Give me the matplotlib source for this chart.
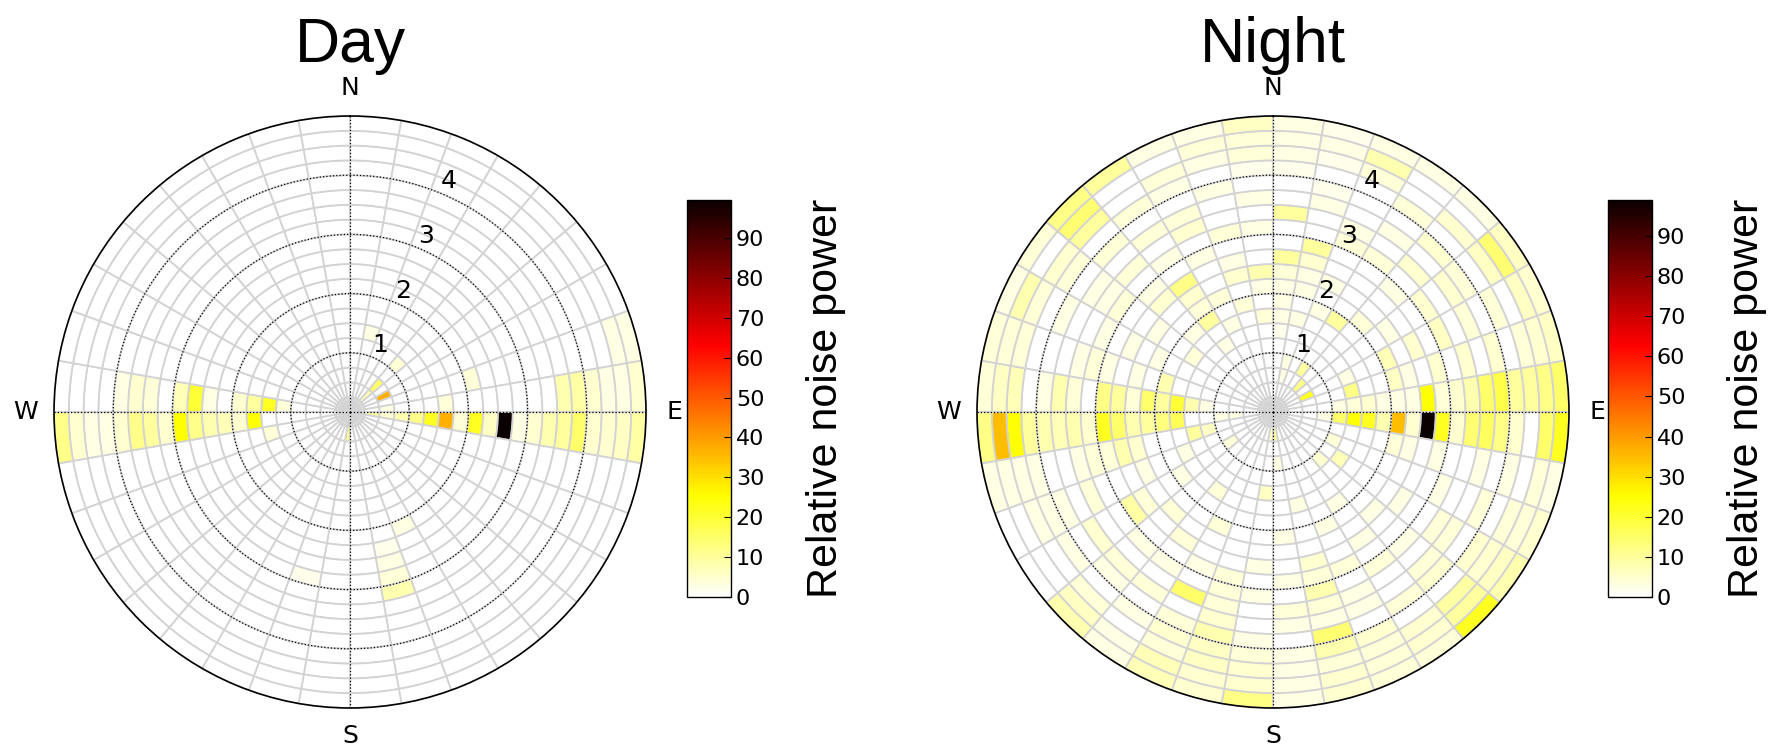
import numpy as np
import matplotlib
matplotlib.use('Agg')
import matplotlib.pyplot as plt
from matplotlib import colors, cm

# sector start (deg, clockwise from N) -> {ring index: value}, ring = 0.25 wide
sector_deg = np.arange(0, 360, 10)
ring_edges = np.arange(0, 5.01, 0.25)

day_cells = {
    10: {5: 3},
    40: {1: 8, 2: 15, 4: 4},
    60: {2: 37},
    70: {8: 4, 18: 3, 19: 3},
    80: {2: 3, 6: 4, 14: 8, 15: 9, 16: 5, 17: 3, 18: 3, 19: 5},
    90: {1: 10, 2: 5, 3: 8, 4: 12, 5: 22, 6: 37, 7: 4, 8: 22, 9: 6, 10: 99.5,
         11: 3, 12: 5, 13: 8, 14: 10, 15: 15, 16: 5, 17: 5, 18: 6, 19: 9},
    150: {8: 3},
    160: {9: 2, 10: 3, 11: 4, 12: 8},
    180: {0: 60, 1: 12},
    190: {11: 2},
    250: {5: 4},
    260: {6: 25, 7: 5, 8: 7, 9: 8, 10: 12, 11: 25, 12: 5, 13: 10, 14: 12, 15: 5,
          16: 3, 17: 3, 18: 5, 19: 12},
    270: {4: 4, 5: 22, 6: 10, 7: 5, 9: 3, 10: 20, 11: 7, 13: 4, 14: 5, 15: 3},
}

night_cells = {
    0: {5: 2, 6: 3, 7: 3, 8: 3, 9: 4, 10: 10, 13: 10, 16: 2, 17: 3, 18: 3, 19: 3},
    10: {2: 3, 3: 3, 6: 3, 8: 3, 9: 3, 10: 5, 11: 10, 14: 3, 15: 2, 17: 2, 18: 3, 19: 2},
    20: {7: 3, 9: 3, 12: 4, 13: 3, 17: 4, 18: 8, 19: 3},
    30: {3: 10, 7: 10, 12: 4, 14: 3, 16: 4, 19: 3},
    40: {2: 12, 8: 4, 11: 3, 13: 5, 15: 5, 17: 5, 19: 3},
    50: {9: 3, 12: 5, 14: 5, 15: 4, 17: 6, 18: 14, 19: 6},
    60: {2: 22, 5: 3, 8: 7, 10: 5, 12: 6, 14: 4, 16: 4, 18: 6, 19: 5},
    70: {5: 12, 8: 6, 9: 3, 11: 5, 13: 5, 15: 5, 17: 4, 18: 5, 19: 6},
    80: {4: 3, 5: 4, 6: 5, 7: 3, 8: 3, 9: 3, 10: 25, 11: 4, 12: 5, 13: 8, 14: 15,
         15: 18, 16: 10, 17: 10, 18: 12, 19: 15},
    90: {3: 3, 4: 15, 5: 25, 6: 22, 7: 8, 8: 35, 9: 5, 10: 99, 11: 22, 12: 5,
         13: 14, 14: 16, 15: 12, 16: 5, 18: 15, 19: 22},
    100: {8: 4, 9: 3, 11: 3, 14: 3, 16: 3, 18: 4, 19: 3},
    110: {4: 4, 12: 3, 15: 4, 17: 4, 18: 4, 19: 5},
    120: {5: 7, 10: 3, 13: 4, 14: 4, 16: 5, 17: 5, 18: 6, 19: 8},
    130: {4: 5, 9: 3, 12: 3, 14: 4, 15: 5, 17: 9, 18: 10, 19: 22},
    140: {7: 3, 10: 3, 12: 4, 15: 4, 17: 5, 18: 5, 19: 4},
    150: {8: 3, 11: 4, 13: 3, 14: 3, 16: 5, 17: 4, 18: 4, 19: 4},
    160: {6: 3, 10: 5, 11: 4, 12: 8, 13: 4, 14: 3, 15: 14, 16: 8, 17: 4, 18: 5, 19: 5},
    170: {1: 10, 3: 3, 8: 3, 11: 3, 13: 4, 14: 3, 16: 3, 17: 3, 18: 3, 19: 3},
    180: {1: 6, 5: 6, 10: 3, 12: 3, 15: 3, 16: 4, 17: 5, 18: 5, 19: 12},
    190: {11: 4, 12: 4, 13: 4, 14: 5, 15: 8, 16: 6, 17: 6, 18: 5, 19: 5},
    200: {8: 4, 11: 3, 13: 15, 15: 4, 16: 5, 17: 4, 18: 7, 19: 7},
    210: {6: 4, 10: 4, 12: 3, 14: 4, 16: 3, 18: 3, 19: 3},
    220: {9: 4, 12: 3, 14: 4, 15: 3, 17: 4, 18: 6, 19: 8},
    230: {3: 4, 7: 3, 10: 4, 11: 9, 14: 5, 16: 3},
    240: {6: 3, 9: 3, 13: 4, 15: 3, 16: 3, 17: 3},
    250: {4: 6, 5: 10, 9: 5, 10: 8, 11: 4, 12: 4, 13: 3, 16: 3, 17: 3, 18: 3, 19: 3},
    260: {2: 3, 3: 3, 6: 17, 7: 13, 8: 10, 9: 8, 10: 15, 11: 22, 12: 5, 13: 8,
          14: 7, 15: 8, 16: 10, 17: 25, 18: 35, 19: 12},
    270: {4: 3, 5: 8, 6: 20, 7: 10, 8: 15, 9: 4, 10: 10, 11: 12, 13: 4, 14: 8,
          15: 3, 17: 7, 18: 6, 19: 4},
    280: {7: 8, 9: 3, 11: 3, 12: 4, 13: 3, 17: 4, 18: 4, 19: 4},
    290: {8: 3, 10: 3, 12: 3, 15: 3, 17: 4, 18: 8, 19: 3},
    300: {6: 4, 9: 3, 12: 4, 13: 3, 14: 3, 16: 4, 17: 5, 19: 4},
    310: {7: 3, 10: 5, 11: 3, 13: 4, 15: 4, 17: 10, 18: 14, 19: 12},
    320: {5: 3, 7: 10, 8: 4, 9: 5, 10: 12, 12: 3, 14: 4, 16: 4, 19: 10},
    330: {6: 3, 8: 4, 11: 3, 13: 5, 14: 4, 16: 3, 17: 4, 19: 3},
    340: {7: 4, 9: 5, 10: 3, 12: 4, 15: 3, 17: 3, 18: 4, 19: 3},
    350: {6: 4, 8: 3, 9: 8, 12: 3, 14: 3, 16: 2, 17: 4, 18: 4, 19: 6},
}

titles = ['Day', 'Night']
cbar_ticks = list(range(0, 100, 10))


def to_grid(cells):
    z = np.zeros((len(sector_deg), len(ring_edges) - 1))
    for deg, rings in cells.items():
        for k, v in rings.items():
            z[deg // 10, k] = v
    return z


W, H = 1777, 746
fig = plt.figure(figsize=(W / 100, H / 100), dpi=100)
cmap = plt.get_cmap('hot_r')
title_font = ['Liberation Sans', 'DejaVu Sans']

for i, (cells, title) in enumerate(zip([day_cells, night_cells], titles)):
    z = to_grid(cells)
    norm = colors.Normalize(vmin=0, vmax=z.max())
    x0 = 54 + i * 923
    ax = fig.add_axes([x0 / W, 38 / H, 592 / W, 592 / H], projection='polar')
    ax.set_theta_zero_location('N')
    ax.set_theta_direction(-1)

    th, rr = np.meshgrid(np.deg2rad(sector_deg), ring_edges[:-1], indexing='ij')
    ax.bar(th.ravel(), 0.25, width=np.deg2rad(10), bottom=rr.ravel(), align='edge',
           color=cmap(norm(z.ravel())), edgecolor='#d3d3d3', linewidth=1.3, zorder=1)

    ax.set_ylim(0, 5)
    ax.set_yticks([1, 2, 3, 4])
    ax.set_yticklabels(['1', '2', '3', '4'], fontsize=18)
    ax.set_rlabel_position(22.5)
    ax.set_xticks(np.deg2rad([0, 90, 180, 270]))
    ax.set_xticklabels(['N', 'E', 'S', 'W'], fontsize=18)
    ax.tick_params(axis='x', pad=10)
    ax.grid(True, color='k', linestyle=':', linewidth=0.9, zorder=3)
    ax.spines['polar'].set_linewidth(1.2)
    fig.text((x0 + 296) / W, 1 - 62 / H, title, fontsize=45, family=title_font,
             ha='center', va='baseline')

    cx = 687 + i * 921
    cax = fig.add_axes([cx / W, 149 / H, 44 / W, 397 / H])
    cb = fig.colorbar(cm.ScalarMappable(norm=norm, cmap=cmap), cax=cax)
    cb.set_ticks(cbar_ticks)
    cb.ax.tick_params(labelsize=16, direction='in', length=5)
    cb.outline.set_linewidth(1.0)
    cb.set_label('Relative noise power', fontsize=31, family=title_font, labelpad=30)

fig.savefig('out.png', dpi=100)
